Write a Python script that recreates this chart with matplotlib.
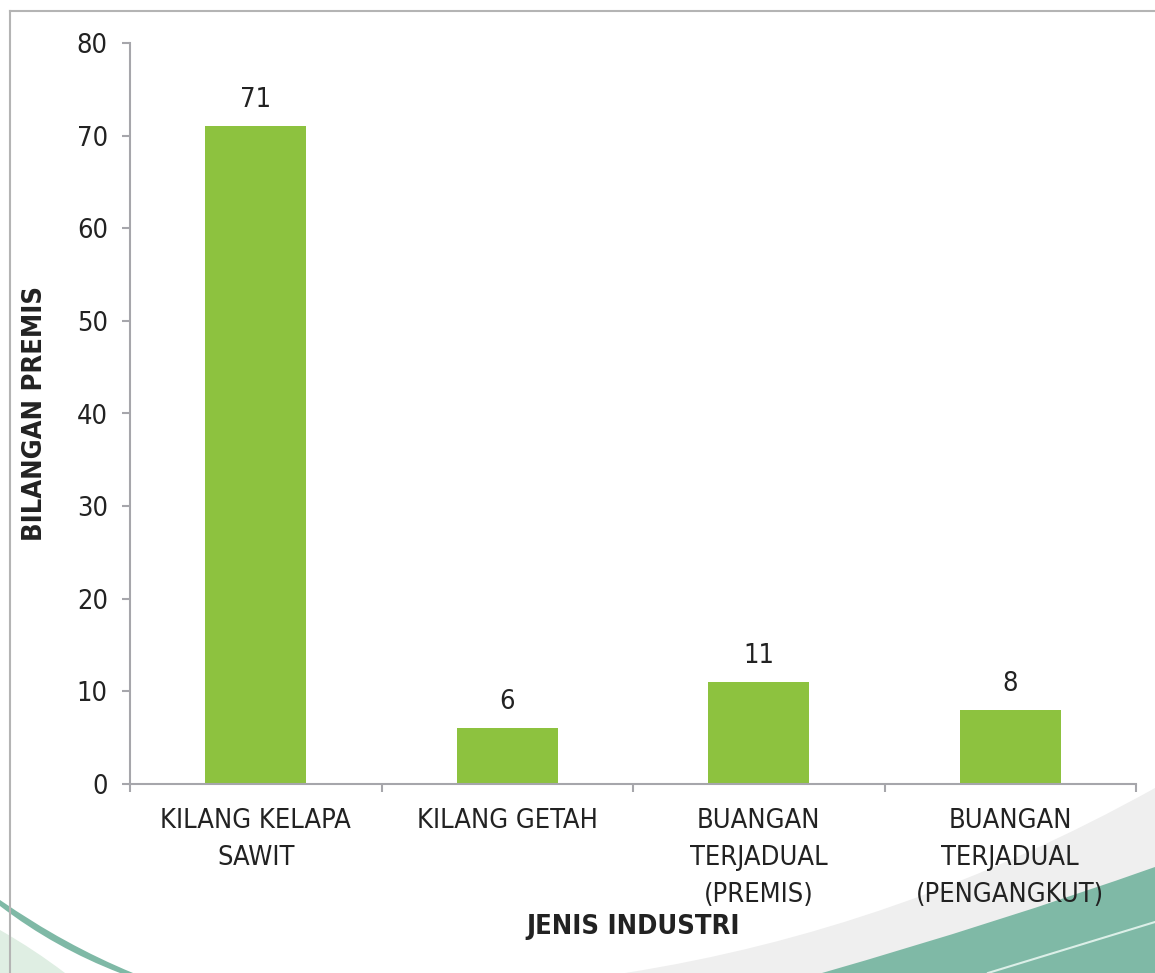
import numpy as np
import matplotlib.pyplot as plt
from matplotlib import font_manager
from matplotlib.path import Path
from matplotlib.patches import PathPatch

categories = ['KILANG KELAPA\nSAWIT', 'KILANG GETAH',
              'BUANGAN\nTERJADUAL\n(PREMIS)', 'BUANGAN\nTERJADUAL\n(PENGANGKUT)']
counts = [71, 6, 11, 8]
yticks = [0, 10, 20, 30, 40, 50, 60, 70, 80]

# narrow sans for all text; condensed DejaVu if present, else Roboto
fonts = font_manager.fontManager.ttflist
if any(f.name == 'DejaVu Sans' and f.stretch == 'condensed' for f in fonts):
    plt.rcParams['font.family'] = ['DejaVu Sans']
    plt.rcParams['font.stretch'] = 'condensed'
else:
    plt.rcParams['font.family'] = ['Roboto', 'DejaVu Sans']

FS = 19.5
INK = '#222222'

W, H = 1155, 973
fig = plt.figure(figsize=(W / 100, H / 100), dpi=100)

# background decoration drawn in pixel space
bg = fig.add_axes([0, 0, 1, 1], zorder=0)
bg.set_xlim(0, W)
bg.set_ylim(H, 0)
bg.axis('off')


def shape(verts, codes, color, **kw):
    bg.add_patch(PathPatch(Path(verts, codes), facecolor=color, edgecolor='none', **kw))


C3 = Path.CURVE3
# right corner: grey sweep, teal sweep, thin white stroke
shape([(625, 973), (900, 930), (1155, 788), (1155, 973), (625, 973)],
      [Path.MOVETO, C3, C3, Path.LINETO, Path.CLOSEPOLY], '#efefef')
shape([(822, 973), (1000, 922), (1155, 867), (1155, 973), (822, 973)],
      [Path.MOVETO, C3, C3, Path.LINETO, Path.CLOSEPOLY], '#7fb9a6')
bg.plot([988, 1155], [973, 922], color='#dcefe8', lw=1.5)
# left corner: pale green wedge and teal ribbon
shape([(0, 930), (35, 950), (65, 973), (0, 973), (0, 930)],
      [Path.MOVETO, C3, C3, Path.LINETO, Path.CLOSEPOLY], '#dfeee3')
shape([(0, 900), (65, 945), (133, 973), (120, 973), (55, 948), (0, 906), (0, 900)],
      [Path.MOVETO, C3, C3, Path.LINETO, C3, C3, Path.CLOSEPOLY], '#7fb9a6')
# frame lines
bg.plot([10, 10], [11, H], color='#b4b4b4', lw=1.5)
bg.plot([10, W], [11, 11], color='#b4b4b4', lw=1.5)

ax = fig.add_axes([130 / W, 189 / H, 1006 / W, 741 / H], zorder=1)
ax.patch.set_alpha(0)
x = np.arange(len(categories))
ax.bar(x, counts, width=0.4, color='#8dc23f')
for xi, v in zip(x, counts):
    ax.annotate(str(v), (xi, v), xytext=(0, 9.5), textcoords='offset points',
                ha='center', va='bottom', fontsize=FS, color=INK)

ax.set_xlim(-0.5, len(categories) - 0.5)
ax.set_ylim(0, 80)
ax.set_yticks(yticks)
ax.set_xticks(np.arange(len(categories) + 1) - 0.5)
ax.set_xticklabels([])
ax.set_xticks(x, minor=True)
ax.set_xticklabels(categories, minor=True, fontsize=FS, color=INK, linespacing=1.55)
ax.tick_params(axis='x', which='major', length=6, width=1.5, color='#a6a6ab')
ax.tick_params(axis='x', which='minor', length=0, pad=17)
ax.tick_params(axis='y', length=6, width=1.5, color='#a6a6ab', pad=10,
               labelsize=FS, labelcolor=INK)

for side in ('top', 'right'):
    ax.spines[side].set_visible(False)
for side in ('left', 'bottom'):
    ax.spines[side].set_color('#a6a6ab')
    ax.spines[side].set_linewidth(1.5)

ax.set_ylabel('BILANGAN PREMIS', fontsize=FS, fontweight='bold', color=INK)
ax.yaxis.set_label_coords(-0.082, 0.5)
ax.set_xlabel('JENIS INDUSTRI', fontsize=FS, fontweight='bold', color=INK)
ax.xaxis.set_label_coords(0.5, -0.175)

fig.savefig('out.png', dpi=100)
